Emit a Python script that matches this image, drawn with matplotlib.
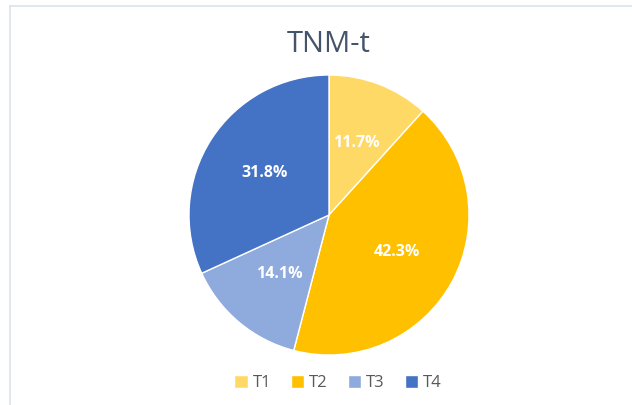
import matplotlib.pyplot as plt
from matplotlib.lines import Line2D

labels = ['T1', 'T2', 'T3', 'T4']
values = [11.7, 42.3, 14.1, 31.8]
colors = ['#FFD966', '#FFC000', '#8FAADC', '#4472C4']

plt.rcParams['font.family'] = ['Open Sans', 'DejaVu Sans']

fig = plt.figure(figsize=(6.32, 4.05), dpi=100)

# light chart border (only top and left visible in the reference)
fig.add_artist(Line2D([10 / 632, 10 / 632], [0, 1 - 6 / 405], color='#DCE3EA', lw=1.2))
fig.add_artist(Line2D([10 / 632, 1], [1 - 6 / 405, 1 - 6 / 405], color='#DCE3EA', lw=1.2))

ax = fig.add_axes([(329 - 140) / 632, 50 / 405, 280 / 632, 280 / 405])
wedges, texts, autotexts = ax.pie(
    values, colors=colors, startangle=90, counterclock=False,
    autopct='%.1f%%', pctdistance=0.55,
    wedgeprops=dict(edgecolor='white', linewidth=1))
for t in autotexts:
    t.set_color('white')
    t.set_fontweight('bold')
    t.set_fontsize(11.5)
ax.set_xlim(-1, 1)
ax.set_ylim(-1, 1)
ax.set_aspect('equal')

fig.text(0.52, 1 - 45 / 405, 'TNM-t', ha='center', va='center', fontsize=21, color='#44546A')

fig.legend(wedges, labels, loc='center', bbox_to_anchor=(0.535, 1 - 383 / 405), ncol=4,
           frameon=False, fontsize=12, handlelength=0.8, handleheight=0.8,
           handletextpad=0.3, columnspacing=1.2, labelcolor='#595959')

fig.savefig('out.png', dpi=100)
